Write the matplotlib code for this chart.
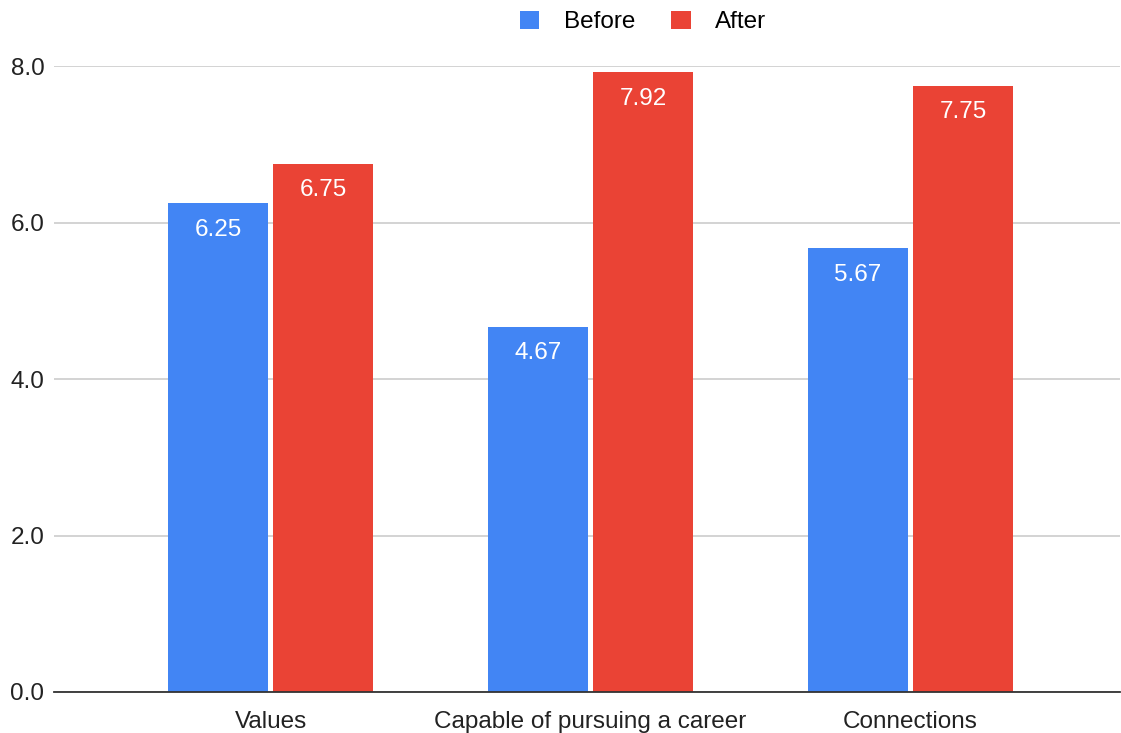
import numpy as np
import matplotlib.pyplot as plt

plt.rcParams['font.family'] = ['Liberation Sans', 'DejaVu Sans']

categories = ['Values', 'Capable of pursuing a career', 'Connections']
before = [6.25, 4.67, 5.67]
after = [6.75, 7.92, 7.75]
series_names = ['Before', 'After']
colors = ['#4285F4', '#EA4335']

fig = plt.figure(figsize=(11.21, 7.33), dpi=100)
ax = fig.add_axes([54 / 1121, 1 - 692 / 733, 1066 / 1121, (692 - 66) / 733])

x = np.arange(len(categories))
w = 0.312
off = 0.164
for vals, shift, col, name in zip([before, after], [-off, off], colors, series_names):
    bars = ax.bar(x + shift, vals, width=w, color=col, label=name, zorder=3)
    for b, v in zip(bars, vals):
        ax.text(b.get_x() + b.get_width() / 2, v - 0.2, f'{v:.2f}',
                ha='center', va='top', color='white', fontsize=17.5, zorder=4)

ax.set_xlim(-0.677, 2.655)
ax.set_ylim(0, 8)
ax.set_yticks([0, 2, 4, 6, 8])
ax.set_yticklabels([f'{t:.1f}' for t in [0, 2, 4, 6, 8]])
ax.set_xticks(x)
ax.set_xticklabels(categories)
ax.tick_params(axis='both', length=0, labelsize=17.5, colors='#222222')
ax.tick_params(axis='y', pad=7)
ax.tick_params(axis='x', pad=14)

ax.yaxis.grid(True, color='#cccccc', linewidth=1.2, zorder=0)
for s in ['top', 'right', 'left']:
    ax.spines[s].set_visible(False)
ax.spines['bottom'].set_color('#333333')
ax.spines['bottom'].set_linewidth(1.3)
ax.spines['bottom'].set_zorder(5)

fig.legend(loc='center', bbox_to_anchor=(643 / 1121, 1 - 22 / 733), ncol=2,
           frameon=False, fontsize=17.5, handlelength=0.8, handleheight=0.8,
           columnspacing=1.5, handletextpad=1.0)

fig.savefig('out.png', dpi=100)
